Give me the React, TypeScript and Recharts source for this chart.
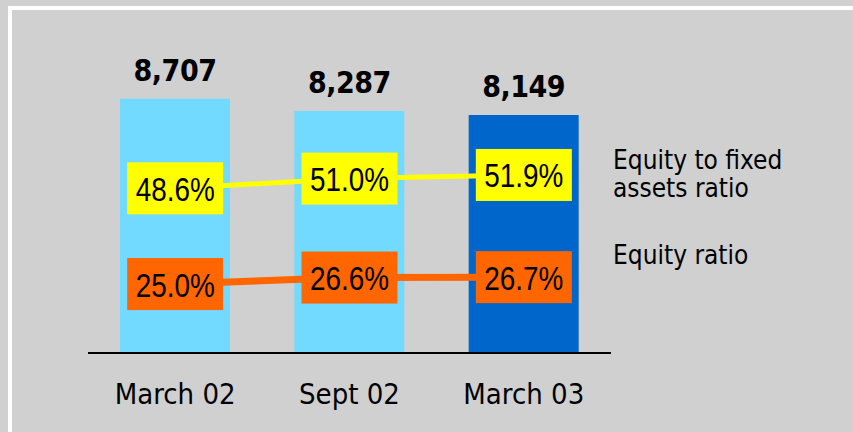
import { ComposedChart, Bar, Line, XAxis, YAxis, Cell, LabelList } from "recharts";

const categories = ["March 02", "Sept 02", "March 03"];
const totals = [8707, 8287, 8149];
const fixedAssetsRatio = [48.6, 51.0, 51.9];
const equityRatio = [25.0, 26.6, 26.7];
const seriesNames = ["Equity to fixed assets ratio", "Equity ratio"];

const barColors = ["#72d9ff", "#72d9ff", "#0066cc"];
const condensed = "'DejaVu Sans Condensed', 'DejaVu Sans', sans-serif";
const arial = "'Liberation Sans', Arial, sans-serif";

const data = categories.map((c, i) => ({
  name: c,
  total: totals[i],
  fixed: fixedAssetsRatio[i],
  equity: equityRatio[i],
}));

function TotalLabel(props: any) {
  const { x, y, width, value } = props;
  return (
    <text
      x={x + width / 2}
      y={y - 18}
      textAnchor="middle"
      fontFamily={condensed}
      fontWeight="bold"
      fontSize={30}
      letterSpacing={-0.5}
      fill="#000"
    >
      {Number(value).toLocaleString("en-US")}
    </text>
  );
}

// boxed percentage; the source font is a narrow sans, so squeeze Liberation Sans
function boxLabel(color: string) {
  return (props: any) => {
    const { x, y, value } = props;
    return (
      <g>
        <rect x={x - 48} y={y - 26} width={96} height={52} fill={color} />
        <g transform={`translate(${x},${y + 1}) scale(0.82,1)`}>
          <text
            x={0}
            y={0}
            textAnchor="middle"
            dominantBaseline="central"
            fontFamily={arial}
            fontSize={34}
            fill="#000"
          >
            {Number(value).toFixed(1)}%
          </text>
        </g>
      </g>
    );
  };
}

function CategoryTick(props: any) {
  const { x, y, payload } = props;
  return (
    <text x={x} y={y + 43} textAnchor="middle" fontFamily={condensed} fontSize={29} fill="#000">
      {payload.value}
    </text>
  );
}

export default function App() {
  return (
    <div style={{ position: "absolute", left: 0, top: 0, width: 853, height: 432, background: "#d0d0d0", overflow: "hidden" }}>
      <div
        style={{
          position: "absolute",
          left: 8,
          top: 6,
          width: 853,
          height: 432,
          borderTop: "4px solid #fff",
          borderLeft: "4px solid #fff",
        }}
      />
      <div style={{ position: "absolute", left: 0, top: 0 }}>
        <ComposedChart width={853} height={432} data={data} margin={{ top: 61, right: 242, bottom: 0, left: 88 }}>
          <XAxis
            dataKey="name"
            height={79}
            tickLine={false}
            axisLine={{ stroke: "#000", strokeWidth: 2 }}
            tick={<CategoryTick />}
            interval={0}
          />
          <YAxis yAxisId="left" hide domain={[0, 10000]} />
          <YAxis yAxisId="right" hide domain={[8, 80]} orientation="right" />
          <Bar yAxisId="left" dataKey="total" barSize={110} isAnimationActive={false}>
            {data.map((_, i) => (
              <Cell key={i} fill={barColors[i]} />
            ))}
            <LabelList dataKey="total" content={<TotalLabel />} />
          </Bar>
          <Line
            yAxisId="right"
            dataKey="fixed"
            name={seriesNames[0]}
            stroke="#ffff00"
            strokeWidth={5}
            dot={false}
            type="linear"
            isAnimationActive={false}
          >
            <LabelList dataKey="fixed" content={boxLabel("#ffff00")} />
          </Line>
          <Line
            yAxisId="right"
            dataKey="equity"
            name={seriesNames[1]}
            stroke="#ff6600"
            strokeWidth={7}
            dot={false}
            type="linear"
            isAnimationActive={false}
          >
            <LabelList dataKey="equity" content={boxLabel("#ff6600")} />
          </Line>
        </ComposedChart>
      </div>
      <div
        style={{
          position: "absolute",
          left: 613,
          top: 146,
          fontFamily: condensed,
          fontSize: 26,
          lineHeight: "28px",
          color: "#000",
        }}
      >
        Equity to fixed
        <br />
        assets ratio
      </div>
      <div
        style={{
          position: "absolute",
          left: 613,
          top: 241,
          fontFamily: condensed,
          fontSize: 26,
          lineHeight: "28px",
          color: "#000",
        }}
      >
        {seriesNames[1]}
      </div>
    </div>
  );
}
